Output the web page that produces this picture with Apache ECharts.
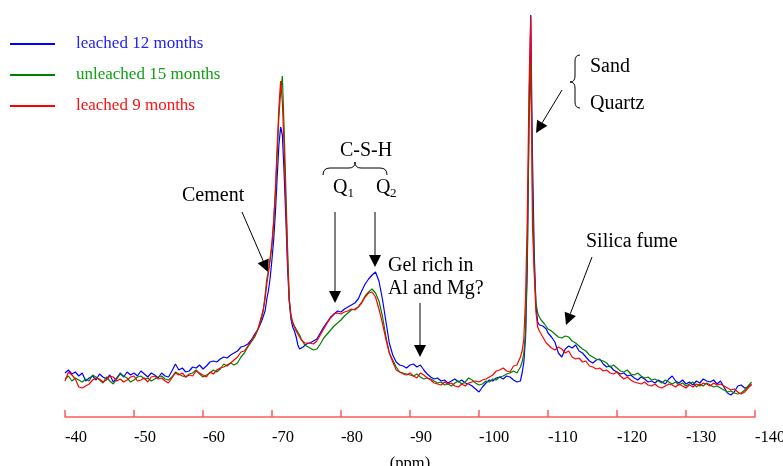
<!DOCTYPE html>
<html>
<head>
<meta charset="utf-8">
<script src="https://cdn.jsdelivr.net/npm/echarts@6/dist/echarts.min.js"></script>
<style>html,body{margin:0;padding:0;background:#fff}#c{width:783px;height:466px}</style>
</head>
<body>
<div id="c"></div>
<script>
// chemical shift (ppm)
const ppm = [
-40,-40.5,-41,-41.5,-42,-42.5,-43,-43.5,-44,-44.5,-45,-45.5,-46,-46.5,-47,-47.5,-48,-48.5,-49,-49.5,
-50,-50.5,-51,-51.5,-52,-52.5,-53,-53.5,-54,-54.5,-55,-55.5,-56,-56.5,-57,-57.5,-58,-58.5,-59,-59.5,
-60,-60.5,-61,-61.5,-62,-62.5,-63,-63.5,-64,-64.5,-65,-65.5,-66,-66.5,-67,
-67.25,-67.5,-67.75,-68,-68.25,-68.5,-68.75,-69,-69.25,-69.5,-69.75,-70,-70.25,-70.5,-70.75,-71,
-71.25,-71.5,-71.75,-72,-72.25,-72.5,-72.75,-73,-73.25,-73.5,-73.75,-74,-74.25,-74.5,-74.75,-75,
-75.5,-76,-76.5,-77,-77.5,-78,-78.5,-79,-79.5,-80,-80.5,-81,-81.5,-82,-82.5,-83,-83.5,-84,-84.5,-85,
-85.5,-86,-86.5,-87,-87.5,-88,-88.5,-89,-89.5,-90,-90.5,-91,-91.5,-92,-92.5,-93,-93.5,-94,-94.5,-95,
-95.5,-96,-96.5,-97,-97.5,-98,-98.5,-99,-99.5,-100,-100.5,-101,-101.5,-102,-102.5,-103,-103.5,-104,-104.5,-105,
-105.25,-105.5,-105.75,-106,-106.25,-106.5,-106.75,-107,-107.25,-107.5,-107.75,-108,-108.25,-108.5,-108.75,-109,-109.25,-109.5,-109.75,-110,
-110.5,-111,-111.5,-112,-112.5,-113,-113.5,-114,-114.5,-115,-115.5,-116,-116.5,-117,-117.5,-118,-118.5,-119,-119.5,-120,
-120.5,-121,-121.5,-122,-122.5,-123,-123.5,-124,-124.5,-125,-125.5,-126,-126.5,-127,-127.5,-128,-128.5,-129,-129.5,-130,
-130.5,-131,-131.5,-132,-132.5,-133,-133.5,-134,-134.5,-135,-135.5,-136,-136.5,-137,-137.5,-138,-138.5,-139,-139.5
];
const leached12 = [
44,47,43,45,41,44,36,39,41,37,43,40,38,42,35,39,44,40,45,42,
44,41,46,43,40,44,42,39,44,41,40,46,53,47,49,45,46,50,49,52,
48,51,55,56,55,58,60,59,62,64,66,70,71,73,77,
80,83,85,88,92,96,101,106,118,127,140,158,178,205,240,272,
290,282,245,200,150,115,98,90,86,80,72,68,67,70,72,73,
74,76,78,84,90,95,100,103,106,105,108,110,112,114,118,126,133,138,142,145,
136,118,96,74,62,55,52,51,49,52,53,50,52,47,43,40,38,39,36,37,
34,36,38,35,37,34,33,31,28,25,30,34,37,36,39,40,38,41,40,37,
38,35,33,36,44,55,80,150,300,402,260,165,112,95,92,90,91,89,88,84,
80,75,64,60,68,71,69,72,66,64,60,56,54,57,58,53,50,51,47,45,
43,44,41,42,39,37,40,38,35,36,34,37,35,33,38,41,36,34,37,33,
35,32,36,34,38,36,35,37,33,36,30,24,22,25,31,32,29,30,32
];
const unleached15 = [
38,41,36,39,37,35,38,36,42,40,37,34,40,36,33,38,43,41,39,35,
37,40,41,38,39,36,38,40,41,38,37,40,45,43,41,40,43,44,47,43,
40,42,44,47,45,48,53,51,54,52,54,60,64,70,75,
77,80,84,89,94,100,107,122,138,147,158,172,195,225,262,300,
325,341,290,230,170,118,100,95,91,88,85,82,78,75,72,70,
69,67,68,73,79,83,87,91,94,97,101,104,107,108,110,115,121,125,128,124,
116,101,81,64,57,50,45,44,43,42,41,43,40,38,39,38,36,34,35,32,
33,31,34,36,33,35,39,37,34,32,33,36,35,38,37,40,41,43,44,46,
46,44,47,50,55,64,85,160,290,355,230,150,115,104,100,97,96,93,91,88,
86,83,80,79,81,80,76,74,71,68,66,62,60,58,57,56,54,50,52,49,
46,45,47,43,42,44,41,39,40,37,38,36,34,37,35,33,35,32,34,31,
33,35,30,33,31,34,32,30,31,29,27,25,26,24,23,24,27,31,35
];
const leached9 = [
36,45,42,38,30,29,31,33,37,39,38,35,37,41,40,36,38,35,37,40,
41,36,37,39,35,40,41,38,39,36,34,39,44,42,44,40,42,41,46,44,
42,40,45,43,47,49,50,52,54,57,60,65,66,71,76,
78,82,85,88,95,101,108,118,133,145,160,175,197,228,270,310,
336,315,270,215,160,118,102,94,90,86,83,80,77,75,74,73,
74,73,76,82,88,94,99,103,104,103,105,106,108,107,110,114,120,124,125,120,
108,94,78,64,55,47,45,43,42,44,41,39,44,42,39,37,34,33,32,35,
33,34,31,30,33,31,34,35,36,35,37,38,40,42,46,47,49,46,45,51,
50,52,56,60,66,78,120,200,330,400,190,145,105,90,86,84,80,78,74,72,
69,67,70,68,64,66,60,58,59,55,56,51,50,48,49,46,47,44,43,45,
41,38,40,37,35,34,33,35,32,31,33,30,29,31,33,32,30,33,31,29,
32,30,33,31,34,33,31,34,32,33,31,29,27,28,25,23,25,29,33
];
const seriesNames = ['leached 12 months', 'unleached 15 months', 'leached 9 months'];
const seriesColors = ['#0000ff', '#008000', '#ff0000'];
const legendColors = ['#2222ee', '#11a011', '#ff1010'];

const FONT = "'Liberation Serif', 'Times New Roman', serif";
const INK = {stroke: '#000', lineWidth: 1, fill: null};

function arrow(x1, y1, x2, y2) {
  const dx = x2 - x1, dy = y2 - y1, L = Math.hypot(dx, dy);
  const ux = dx / L, uy = dy / L, hl = 12, hw = 6;
  const bx = x2 - ux * hl, by = y2 - uy * hl;
  return [
    {type: 'line', shape: {x1: x1, y1: y1, x2: bx, y2: by}, style: {stroke: '#000', lineWidth: 1}},
    {type: 'polygon', shape: {points: [[x2, y2], [bx - uy * hw, by + ux * hw], [bx + uy * hw, by - ux * hw]]}, style: {fill: '#000'}}
  ];
}
function curve(x1, y1, cx, cy, x2, y2) {
  return {type: 'bezierCurve', shape: {x1: x1, y1: y1, x2: x2, y2: y2, cpx1: cx, cpy1: cy}, style: Object.assign({}, INK)};
}
function seg(x1, y1, x2, y2) {
  return {type: 'line', shape: {x1: x1, y1: y1, x2: x2, y2: y2}, style: {stroke: '#000', lineWidth: 1}};
}
function label(text, x, y, size) {
  return {type: 'text', x: x, y: y, style: {text: text, fill: '#000', font: (size || 20) + 'px ' + FONT,
    textAlign: 'left', textVerticalAlign: 'middle'}};
}
const graphics = [].concat(
  [label('Cement', 182, 196)],
  arrow(242, 212, 268, 272),
  [label('C-S-H', 340, 151)],
  [curve(323, 175, 323, 168, 330, 168), seg(330, 168, 349, 168), curve(349, 168, 355, 168, 355, 162),
   curve(355, 162, 355, 168, 361, 168), seg(361, 168, 380, 168), curve(380, 168, 387, 168, 387, 175)],
  [label('Q', 333, 188), label('1', 347.5, 194, 13), label('Q', 376, 188), label('2', 390, 194, 13)],
  arrow(335, 212, 335, 303),
  arrow(375, 212, 375, 267),
  [label('Gel rich in', 388, 266), label('Al and Mg?', 388, 289)],
  arrow(420, 303, 420, 357),
  [curve(580, 55, 575, 55, 575, 61), seg(575, 61, 575, 76), curve(575, 76, 575, 82, 570, 82),
   curve(570, 82, 575, 82, 575, 88), seg(575, 88, 575, 102), curve(575, 102, 575, 108, 580, 108)],
  [label('Sand', 590, 67), label('Quartz', 590, 104)],
  arrow(562, 90, 536, 133),
  [label('Silica fume', 586, 242)],
  arrow(592, 257, 566, 325)
);

const chart = echarts.init(document.getElementById('c'), null, {renderer: 'canvas'});
const allValues = [leached12, unleached15, leached9];
chart.setOption({
  animation: false,
  backgroundColor: '#fff',
  grid: {left: 65, right: 28, top: 12, bottom: 49, containLabel: false, outerBoundsMode: 'none'},
  legend: {
    orient: 'vertical', left: 5, top: 29, itemWidth: 45, itemHeight: 2, itemGap: 11, icon: 'rect',
    textStyle: {fontFamily: FONT, fontSize: 17, lineHeight: 20, padding: [0, 0, 0, 16]},
    data: seriesNames.map((n, i) => ({name: n, textStyle: {color: legendColors[i]}}))
  },
  xAxis: {
    type: 'value', min: -140, max: -40, interval: 10, inverse: true,
    name: '(ppm)', nameLocation: 'middle', nameGap: 38,
    nameTextStyle: {fontFamily: FONT, fontSize: 16.5, color: '#000'},
    axisLine: {show: true, lineStyle: {color: '#ff5a5a', width: 1.5}},
    axisTick: {show: true, inside: true, length: 7, lineStyle: {color: '#ff5a5a', width: 1.5}},
    axisLabel: {fontFamily: FONT, fontSize: 16.5, color: '#000', margin: 12, align: 'left', hideOverlap: false},
    splitLine: {show: false}
  },
  yAxis: {type: 'value', min: 0, max: 405, show: false, splitLine: {show: false}},
  series: seriesNames.map((n, i) => ({
    name: n, type: 'line', showSymbol: false, symbol: 'none', smooth: false,
    lineStyle: {color: seriesColors[i], width: 1.2}, itemStyle: {color: seriesColors[i]},
    data: ppm.map((x, k) => [x, allValues[i][k]])
  })),
  graphic: graphics
});
</script>
</body>
</html>
